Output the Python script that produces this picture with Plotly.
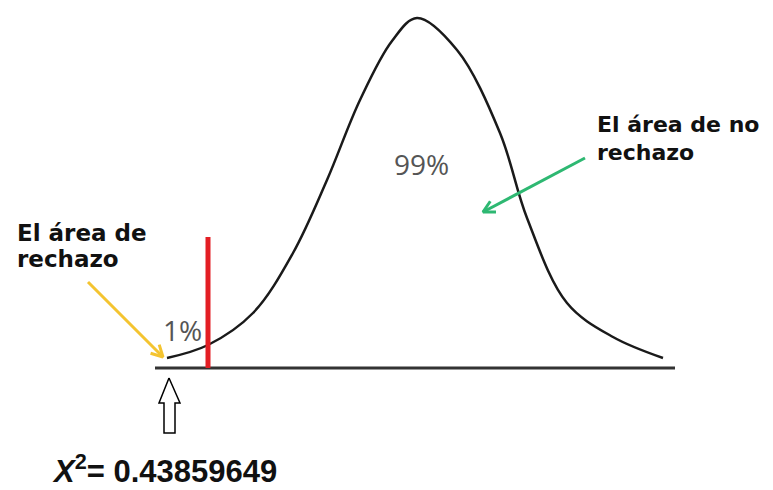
import plotly.graph_objects as go
import numpy as np

# Schematic density curve (x position, height above baseline)
curve_x = [167, 208, 253, 293, 327, 360, 392, 417, 457, 500, 527, 567, 613, 663]
curve_h = [10, 23, 55, 115, 188, 268, 327, 350, 318, 235, 150, 65, 31, 10]

baseline_x = [155, 675]
critical_x = 208
critical_h = 131

pct_labels = ["99%", "1%"]
pct_pos = [(421, 204), (182, 38)]

left_lines = ["El área de", "rechazo"]
right_lines = ["El área de no", "rechazo"]
formula = "<b><i>X</i><sup>2</sup>= 0.43859649</b>"

# arrows: (start, tip)
yellow_arrow = ((88, 86), (163, 11))
green_arrow = ((585, 210), (483, 156))

# hollow up arrow outline
hollow_x = [169, 180, 175, 175, 164, 164, 159, 169]
hollow_h = [-10, -35, -35, -65, -65, -35, -35, -10]

fig = go.Figure()

fig.add_trace(go.Scatter(x=baseline_x, y=[0, 0], mode="lines",
                         line=dict(color="#333333", width=3), hoverinfo="skip"))
fig.add_trace(go.Scatter(x=curve_x, y=curve_h, mode="lines",
                         line=dict(color="#1a1a1a", width=2.5, shape="spline", smoothing=1.0),
                         hoverinfo="skip"))
fig.add_trace(go.Scatter(x=[critical_x, critical_x], y=[0, critical_h], mode="lines",
                         line=dict(color="#e31e24", width=5), hoverinfo="skip"))
fig.add_trace(go.Scatter(x=hollow_x, y=hollow_h, mode="lines", fill="toself",
                         fillcolor="white", line=dict(color="black", width=1.5),
                         hoverinfo="skip"))


def arrow(start, tip, color):
    sx, sy = start
    tx, ty = tip
    d = np.array([tx - sx, ty - sy], dtype=float)
    d /= np.linalg.norm(d)
    L = 13
    arms = []
    for ang in (np.radians(28), -np.radians(28)):
        c, s = np.cos(ang), np.sin(ang)
        r = np.array([d[0] * c - d[1] * s, d[0] * s + d[1] * c])
        arms.append((tx - L * r[0], ty - L * r[1]))
    xs = [sx, tx, None, arms[0][0], tx, arms[1][0]]
    ys = [sy, ty, None, arms[0][1], ty, arms[1][1]]
    fig.add_trace(go.Scatter(x=xs, y=ys, mode="lines",
                             line=dict(color=color, width=3), hoverinfo="skip"))


arrow(*yellow_arrow, "#f4c430")
arrow(*green_arrow, "#2eb872")

for txt, (x, y) in zip(pct_labels, pct_pos):
    fig.add_annotation(x=x, y=y, text=txt, showarrow=False, xanchor="center", yanchor="middle",
                       font=dict(family="Open Sans", size=28, color="#555555"))

for i, t in enumerate(left_lines):
    fig.add_annotation(x=15, y=135 - i * 26, text="<b>" + t + "</b>", showarrow=False,
                       xanchor="left", yanchor="middle",
                       font=dict(family="DejaVu Sans", size=23, color="#111111"))
for i, t in enumerate(right_lines):
    fig.add_annotation(x=595, y=244 - i * 28, text="<b>" + t + "</b>", showarrow=False,
                       xanchor="left", yanchor="middle",
                       font=dict(family="DejaVu Sans", size=22, color="#111111"))

fig.add_annotation(x=50, y=-101, text=formula, showarrow=False, xanchor="left", yanchor="middle",
                   font=dict(family="Liberation Sans", size=31, color="#111111"))

# page body has an 8px default margin: shift ranges so content lands at the reference spot
fig.update_layout(width=765, height=482, margin=dict(l=0, r=0, t=0, b=0),
                  paper_bgcolor="white", plot_bgcolor="white", showlegend=False,
                  xaxis=dict(range=[8, 773], visible=False, fixedrange=True),
                  yaxis=dict(range=[-122, 360], visible=False, fixedrange=True))

fig.write_html("out.html")
